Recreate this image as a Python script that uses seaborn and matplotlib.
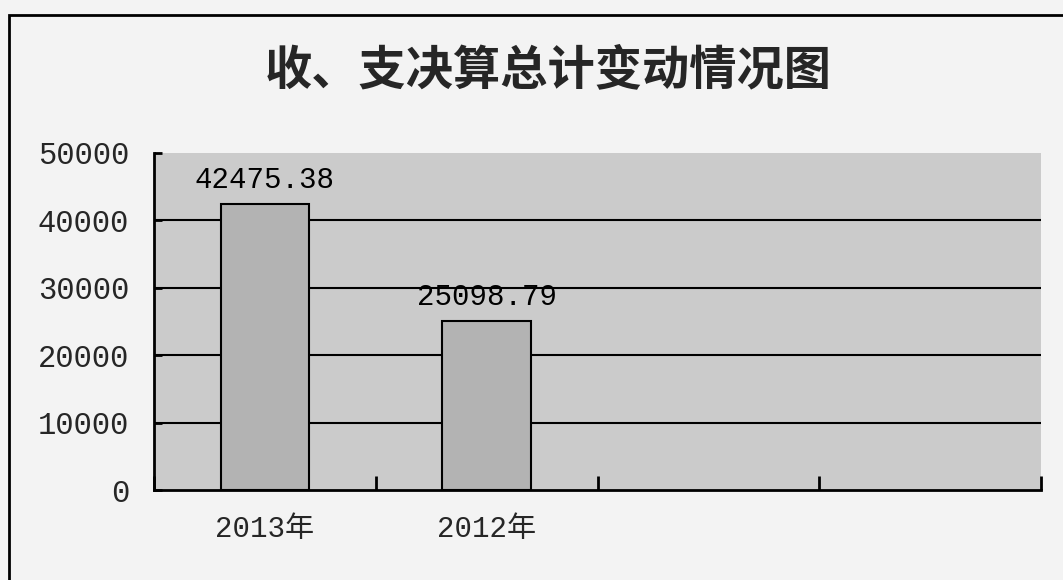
import matplotlib
matplotlib.use("Agg")
import matplotlib.pyplot as plt
from matplotlib.patches import Rectangle
from matplotlib.ticker import FixedLocator
import seaborn as sns
import pandas as pd

# chart data
years = ['2013年', '2012年']
totals = [42475.38, 25098.79]
slots = ['2013年', '2012年', ' ', '  ']   # two empty category slots on the right
yticks = [0, 10000, 20000, 30000, 40000, 50000]
title = '收、支决算总计变动情况图'

num_font = ['Liberation Mono', 'Noto Sans CJK SC']

sns.set_style("white")
plt.rcParams['font.family'] = ['Liberation Mono', 'Noto Sans CJK SC', 'DejaVu Sans']

df = pd.DataFrame({'year': years, 'total': totals})

fig = plt.figure(figsize=(10.63, 5.8), dpi=100, facecolor='#f3f3f3')
ax = fig.add_axes([154/1063, 1 - 490/580, (1041 - 154)/1063, (490 - 153)/580])
ax.set_facecolor('#cbcbcb')

sns.barplot(data=df, x='year', y='total', order=slots, width=0.4,
            color='#b3b3b3', edgecolor='black', linewidth=1.5,
            saturation=1, ax=ax, zorder=3)

ax.bar_label(ax.containers[0], fmt='%.2f', padding=7,
             fontsize=21, family=num_font, color='black')

ax.set_ylim(0, 50000)
ax.set_xlim(-0.5, 3.5)
ax.set_yticks(yticks)
ax.set_yticklabels([str(v) for v in yticks], fontsize=22, family=num_font)
ax.set_xticks(range(len(slots)))
ax.set_xticklabels(slots, fontsize=21, family=num_font)
ax.xaxis.set_minor_locator(FixedLocator([-0.5, 0.5, 1.5, 2.5, 3.5]))
ax.tick_params(axis='x', which='major', length=0, pad=18)
ax.tick_params(axis='x', which='minor', direction='in', length=10, width=2,
               color='black', bottom=True)
ax.tick_params(axis='y', direction='in', length=6, width=2, color='black',
               left=True, pad=18)
ax.set_xlabel('')
ax.set_ylabel('')

# gridlines at every tick except the top edge
for v in yticks[1:-1]:
    ax.axhline(v, color='black', linewidth=1.5, zorder=1)
for side in ['top', 'right']:
    ax.spines[side].set_visible(False)
for side in ['left', 'bottom']:
    ax.spines[side].set_color('black')
    ax.spines[side].set_linewidth(2)

fig.text(548/1063, 1 - 70/580, title, ha='center', va='center',
         fontsize=34, fontweight='bold', family=['Noto Sans CJK SC'])

# outer chart frame
fig.patches.append(Rectangle((9/1063, -0.1), 1.2, 1 - 15/580 + 0.1,
                             transform=fig.transFigure, fill=False,
                             edgecolor='black', linewidth=2))

fig.savefig('out.png', dpi=100, facecolor=fig.get_facecolor())
